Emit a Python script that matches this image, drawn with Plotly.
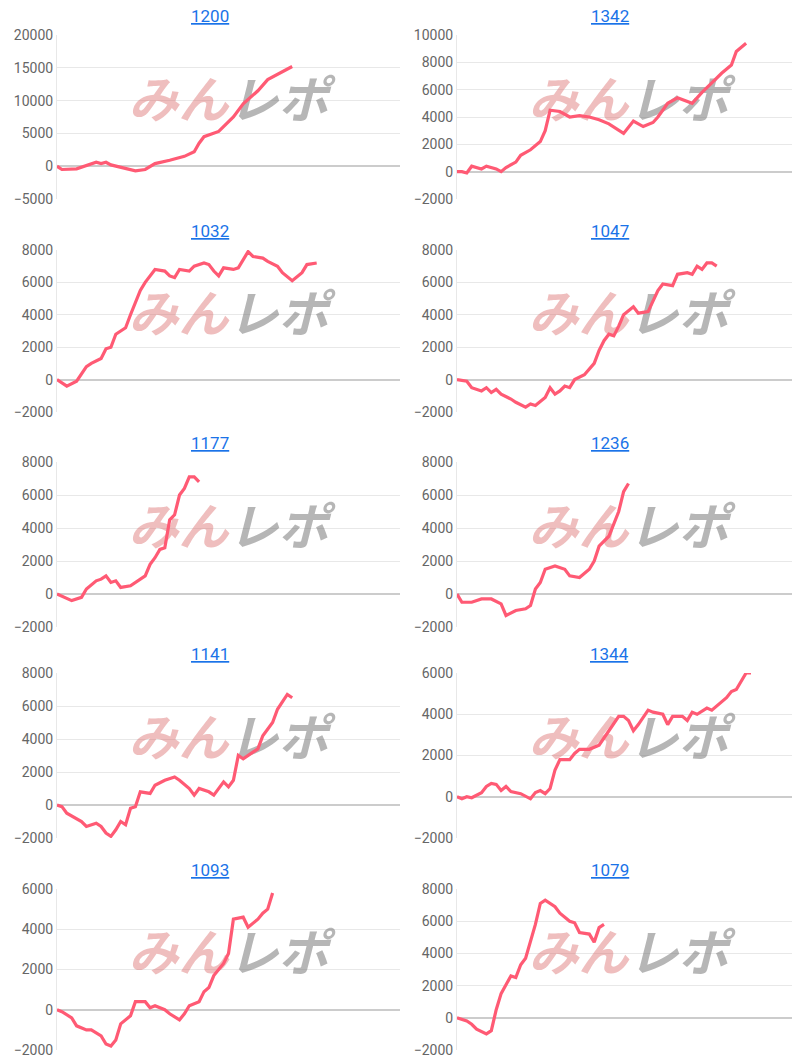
import plotly.graph_objects as go

# title, day index, value
titles = ['1200', '1342', '1032', '1047', '1177', '1236', '1141', '1344', '1093', '1079']

x1200 = [0, 1, 4, 7, 8, 9, 10, 11, 14, 16, 18, 20, 23, 26, 28, 29, 30, 33, 36, 38, 41, 43, 48]
y1200 = [0, -500, -400, 400, 600, 400, 600, 200, -300, -700, -500, 400, 900, 1500, 2200, 3500, 4500, 5300, 7500, 9500, 11500, 13200, 15200]

x1342 = [0, 1, 2, 3, 5, 6, 8, 9, 10, 12, 13, 15, 17, 18, 19, 21, 23, 25, 27, 29, 31, 33, 34, 36, 38, 40, 41, 43, 45, 48, 50, 52, 54, 56, 57, 59]
y1342 = [0, 0, -100, 400, 200, 400, 200, 0, 300, 700, 1200, 1600, 2200, 3000, 4500, 4400, 4000, 4100, 4000, 3800, 3500, 3000, 2800, 3700, 3300, 3600, 4000, 5000, 5400, 5000, 5800, 6500, 7200, 7800, 8800, 9400]

x1032 = [0, 1, 2, 4, 6, 7, 9, 10, 11, 12, 14, 15, 17, 18, 20, 22, 23, 24, 25, 27, 28, 30, 31, 32, 33, 34, 36, 37, 39, 40, 42, 43, 45, 46, 48, 50, 51, 53]
y1032 = [0, -200, -400, -100, 800, 1000, 1300, 1900, 2000, 2800, 3200, 4000, 5500, 6000, 6800, 6700, 6400, 6300, 6800, 6700, 7000, 7200, 7100, 6700, 6400, 6900, 6800, 6900, 7900, 7600, 7500, 7300, 7000, 6600, 6100, 6600, 7100, 7200]

x1047 = [0, 2, 3, 5, 6, 7, 8, 9, 11, 12, 14, 15, 16, 18, 19, 20, 21, 22, 23, 24, 26, 28, 29, 30, 31, 32, 33, 34, 36, 37, 39, 40, 41, 42, 44, 45, 47, 48, 49, 50, 51, 52, 53]
y1047 = [0, -100, -500, -700, -500, -800, -600, -900, -1200, -1400, -1700, -1500, -1600, -1100, -500, -900, -700, -400, -500, 0, 300, 1000, 1800, 2400, 2800, 2700, 3300, 4000, 4500, 4100, 4200, 4800, 5500, 5900, 5800, 6500, 6600, 6500, 7000, 6800, 7200, 7200, 7000]

x1177 = [0, 2, 3, 5, 6, 8, 9, 10, 11, 12, 13, 15, 16, 18, 19, 20, 21, 22, 23, 24, 25, 26, 27, 28, 29]
y1177 = [0, -300, -400, -200, 300, 800, 900, 1100, 700, 800, 400, 500, 700, 1100, 1800, 2200, 2700, 2800, 4500, 4800, 6000, 6400, 7100, 7100, 6800]

x1236 = [0, 1, 3, 5, 7, 9, 10, 12, 14, 15, 16, 17, 18, 20, 22, 23, 25, 27, 28, 29, 31, 32, 33, 34, 35]
y1236 = [0, -500, -500, -300, -300, -600, -1300, -1000, -900, -700, 300, 700, 1500, 1700, 1500, 1100, 1000, 1500, 2000, 2900, 3500, 4300, 5000, 6200, 6700]

x1141 = [0, 1, 2, 4, 5, 6, 8, 9, 10, 11, 12, 13, 14, 15, 16, 17, 19, 20, 22, 24, 25, 27, 28, 29, 31, 32, 34, 35, 36, 37, 38, 40, 41, 42, 44, 45, 47, 48]
y1141 = [0, -100, -500, -800, -1000, -1300, -1100, -1300, -1700, -1900, -1500, -1000, -1200, -200, -100, 800, 700, 1200, 1500, 1700, 1500, 1000, 600, 1000, 800, 600, 1400, 1100, 1500, 3000, 2800, 3200, 3400, 4200, 5000, 5800, 6700, 6500]

x1344 = [0, 1, 2, 3, 5, 6, 7, 8, 9, 10, 11, 13, 15, 16, 17, 18, 19, 20, 21, 23, 24, 25, 27, 28, 29, 31, 33, 34, 35, 36, 37, 39, 40, 42, 43, 44, 46, 47, 48, 49, 51, 52, 54, 55, 56, 57, 59, 60]
y1344 = [0, -100, 0, -50, 200, 500, 650, 600, 300, 500, 250, 150, -100, 200, 300, 150, 400, 1300, 1800, 1800, 2100, 2300, 2300, 2400, 2500, 3200, 3900, 3900, 3700, 3200, 3500, 4200, 4100, 4000, 3500, 3900, 3900, 3700, 4100, 4000, 4300, 4200, 4600, 4800, 5100, 5200, 6000, 6000]

x1093 = [0, 1, 3, 4, 6, 7, 9, 10, 11, 12, 13, 15, 16, 18, 19, 20, 22, 23, 25, 26, 27, 29, 30, 31, 32, 34, 35, 36, 38, 39, 41, 42, 43, 44]
y1093 = [0, -100, -400, -800, -1000, -1000, -1300, -1700, -1800, -1500, -700, -300, 400, 400, 100, 200, 0, -200, -500, -200, 200, 400, 900, 1100, 1700, 2300, 2800, 4500, 4600, 4100, 4500, 4800, 5000, 5800]

x1079 = [0, 2, 3, 4, 6, 7, 8, 9, 11, 12, 13, 14, 16, 17, 18, 20, 21, 23, 24, 25, 27, 28, 29, 30]
y1079 = [0, -200, -400, -700, -1000, -800, 500, 1500, 2600, 2500, 3300, 3700, 5800, 7100, 7300, 6900, 6500, 6000, 5900, 5300, 5200, 4700, 5600, 5800]

xs = [x1200, x1342, x1032, x1047, x1177, x1236, x1141, x1344, x1093, x1079]
ys = [y1200, y1342, y1032, y1047, y1177, y1236, y1141, y1344, y1093, y1079]
y_ranges = [(-5000, 20000), (-2000, 10000), (-2000, 8000), (-2000, 8000), (-2000, 8000),
            (-2000, 8000), (-2000, 8000), (-2000, 6000), (-2000, 6000), (-2000, 8000)]
y_steps = [5000, 2000, 2000, 2000, 2000, 2000, 2000, 2000, 2000, 2000]
x_max = 70

W, H = 800, 1062
OFF = 8  # page body margin
rows_px = [(35, 199), (250, 412), (462, 627), (673, 838), (889, 1050)]
cols_px = [(57, 400), (457, 800)]

fig = go.Figure()
annotations = []
mark = ("<i><b><span style='color:rgba(220,110,110,0.45)'>みん</span>"
        "<span style='color:rgba(110,110,110,0.5)'>レポ</span></b></i>")

for k in range(10):
    r, c = divmod(k, 2)
    n = k + 1
    ax = '' if n == 1 else str(n)
    top, bot = rows_px[r]
    left, right = cols_px[c]
    lo, hi = y_ranges[k]
    # watermark behind the line
    fig.add_trace(go.Scatter(
        x=[x_max * 0.5], y=[lo + (hi - lo) * 0.57], mode='text', text=[mark],
        textfont=dict(size=50, family='Noto Sans CJK JP'),
        xaxis='x' + ax, yaxis='y' + ax, showlegend=False, hoverinfo='skip'))
    fig.add_trace(go.Scatter(
        x=xs[k], y=ys[k], mode='lines',
        line=dict(color='#ff5a74', width=3.2),
        xaxis='x' + ax, yaxis='y' + ax, showlegend=False))
    fig.layout['xaxis' + ax] = dict(
        domain=[(left - OFF) / W, min(1, (right - OFF) / W)], range=[0, x_max],
        showticklabels=False, showgrid=False, zeroline=False, showline=False,
        anchor='y' + ax, automargin=False)
    fig.layout['yaxis' + ax] = dict(
        domain=[1 - (bot - OFF) / H, 1 - (top - OFF) / H], range=[lo, hi],
        dtick=y_steps[k], tickformat='d', automargin=False,
        showgrid=True, gridcolor='#e8e8e8', zeroline=True, zerolinecolor='#cccccc',
        zerolinewidth=1.5, showline=True, linecolor='#e8e8e8',
        tickfont=dict(size=14, color='#666', family='Roboto'),
        anchor='x' + ax, ticks='', ticklen=0)
    annotations.append(dict(
        text='<u>' + titles[k] + '</u>', xref='paper', yref='paper',
        x=((left + right) / 2 - 19 - OFF) / W, y=1 - (top - 19 - OFF) / H,
        xanchor='center', yanchor='middle',
        showarrow=False, font=dict(size=17, color='#1a73e8', family='Roboto')))

fig.update_layout(
    width=W, height=H, margin=dict(l=0, r=0, t=0, b=0, autoexpand=False),
    paper_bgcolor='white', plot_bgcolor='white', annotations=annotations)

fig.write_html("out.html")
